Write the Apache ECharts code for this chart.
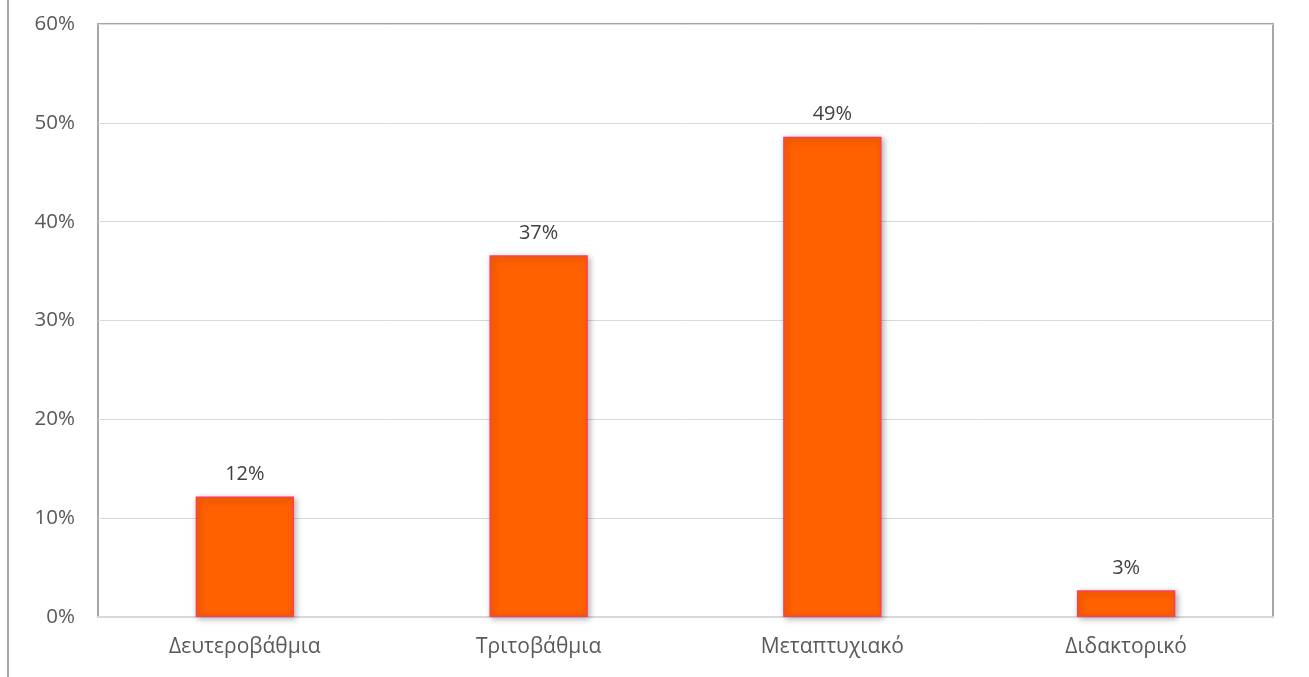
<!DOCTYPE html>
<html>
<head>
<meta charset="utf-8">
<script src="https://cdn.jsdelivr.net/npm/echarts@6/dist/echarts.min.js"></script>
<style>html,body{margin:0;padding:0;background:#fff;}#c{width:1309px;height:677px;}</style>
</head>
<body>
<div id="c"></div>
<script>
const categories = ["Δευτεροβάθμια", "Τριτοβάθμια", "Μεταπτυχιακό", "Διδακτορικό"];
const values = [12.2, 36.6, 48.6, 2.7];
const labels = ["12%", "37%", "49%", "3%"];
const yTicks = [0, 10, 20, 30, 40, 50, 60];

const chart = echarts.init(document.getElementById('c'), null, {renderer: 'canvas'});
const font = "'Open Sans', 'Noto Sans', sans-serif";
chart.setOption({
  animation: false,
  backgroundColor: '#fff',
  graphic: [{
    type: 'line', z: 10,
    shape: {x1: 8, y1: 0, x2: 8, y2: 677},
    style: {stroke: '#a6a6a6', lineWidth: 2}
  }],
  grid: {left: 98, right: 36, top: 24, bottom: 60, show: true, borderColor: '#a6a6a6', borderWidth: 2, backgroundColor: 'transparent'},
  xAxis: {
    type: 'category', data: categories,
    axisLine: {show: true, lineStyle: {color: '#d9d9d9', width: 2}},
    axisTick: {show: false},
    axisLabel: {color: '#595959', fontFamily: font, fontSize: 21, margin: 20}
  },
  yAxis: {
    type: 'value', min: 0, max: 60, interval: 10,
    axisLine: {show: false}, axisTick: {show: false},
    splitLine: {lineStyle: {color: '#d9d9d9', width: 1}},
    axisLabel: {color: '#595959', fontFamily: font, fontSize: 20.5, margin: 23,
      formatter: v => yTicks.includes(v) ? v + '%' : ''}
  },
  series: [{
    type: 'bar', barWidth: '33.5%',
    data: values,
    itemStyle: {color: '#FF6000', borderColor: '#FF3D5A', borderWidth: 1.5,
      shadowBlur: 6, shadowColor: 'rgba(0,0,0,0.3)', shadowOffsetX: 2, shadowOffsetY: 2},
    label: {show: true, position: 'top', distance: 12, color: '#404040', fontFamily: font, fontSize: 20,
      formatter: p => labels[p.dataIndex]}
  }]
});
</script>
</body>
</html>
